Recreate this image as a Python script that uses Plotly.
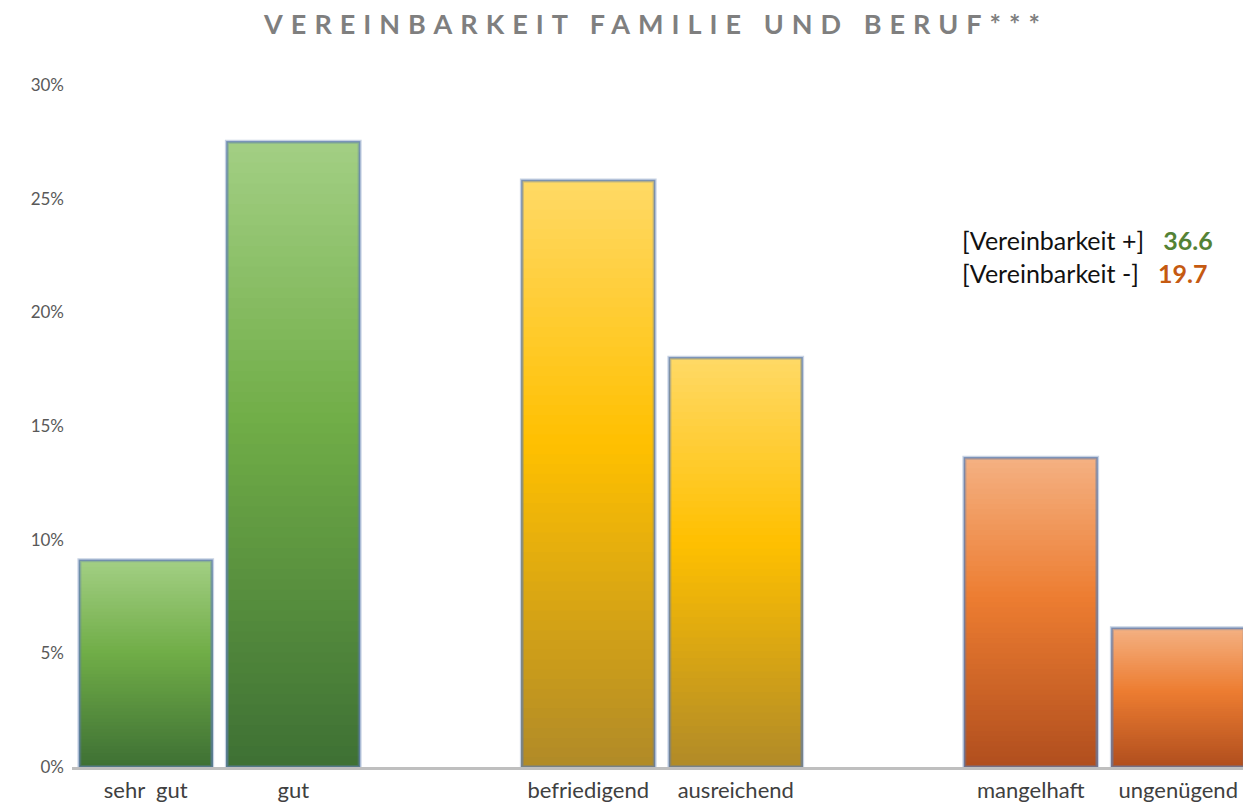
import plotly.graph_objects as go

# ---- data ----
categories = ["sehr\u00a0 gut", "gut", "", "befriedigend", "ausreichend", "", "mangelhaft", "ungenügend"]
values = [9.1, 27.5, None, 25.8, 18.0, None, 13.6, 6.1]
groups = ["pos", "pos", None, "mid", "mid", None, "neg", "neg"]
y_ticks = [0, 5, 10, 15, 20, 25, 30]
y_ticklabels = ["0%", "5%", "10%", "15%", "20%", "25%", "30%"]
title_text = "VEREINBARKEIT FAMILIE UND BERUF***"
summary_labels = ["[Vereinbarkeit +]", "[Vereinbarkeit -]"]
summary_values = [36.6, 19.7]
summary_colors = ["#548235", "#c55a11"]

# gradient stops (top -> bottom) per colour group
gradients = {
    "pos": [(0.0, (163, 207, 132)), (0.45, (112, 173, 71)), (1.0, (62, 112, 52))],
    "mid": [(0.0, (255, 217, 102)), (0.45, (255, 192, 0)), (1.0, (176, 138, 40))],
    "neg": [(0.0, (244, 177, 131)), (0.45, (237, 125, 49)), (1.0, (176, 78, 30))],
}


def grad_color(stops, f):
    for (f0, c0), (f1, c1) in zip(stops[:-1], stops[1:]):
        if f0 <= f <= f1:
            t = (f - f0) / (f1 - f0) if f1 > f0 else 0
            c = [round(a + (b - a) * t) for a, b in zip(c0, c1)]
            return "rgb(%d,%d,%d)" % tuple(c)
    return "rgb(%d,%d,%d)" % stops[-1][1]


x = list(range(len(categories)))
N = 60
fig = go.Figure()
for k in range(N):
    frac_h = (N - k) / N
    ys = [v * frac_h if v is not None else None for v in values]
    cols = [grad_color(gradients[g], (k + 0.5) / N) if g else "rgba(0,0,0,0)" for g in groups]
    fig.add_trace(go.Bar(x=x, y=ys, width=0.9, marker=dict(color=cols, line=dict(width=0)),
                         hoverinfo="skip", showlegend=False))

# soft bluish outline
fig.add_trace(go.Bar(x=x, y=values, width=0.9,
                     marker=dict(color="rgba(0,0,0,0)", line=dict(color="rgba(95,125,175,0.35)", width=4)),
                     hoverinfo="skip", showlegend=False))
fig.add_trace(go.Bar(x=x, y=values, width=0.9,
                     marker=dict(color="rgba(0,0,0,0)", line=dict(color="rgba(95,125,175,0.7)", width=1.5)),
                     hovertemplate="%{y}%<extra></extra>", showlegend=False))

nb = "\u00a0"
annotations = []
for i, (lab, val, col) in enumerate(zip(summary_labels, summary_values, summary_colors)):
    annotations.append(dict(
        xref="paper", yref="paper", x=0.7525, y=0.773 - i * 0.048, xanchor="left", yanchor="middle",
        text=f"{lab}{nb}{nb} <b><span style='color:{col}'>{val:.1f}</span></b>",
        showarrow=False, font=dict(family="Lato, Open Sans, sans-serif", size=25, color="#111111")))

fig.update_layout(
    width=1251, height=807,
    margin=dict(l=64, r=7, t=77, b=48),
    paper_bgcolor="white", plot_bgcolor="white",
    barmode="overlay", bargap=0.1,
    title=dict(text=f"<b><span style='letter-spacing:8px'>{title_text}</span></b>",
               x=0.518, xanchor="center", y=0.979, yanchor="middle",
               font=dict(family="Lato, Open Sans, sans-serif", size=27, color="#7f7f7f")),
    xaxis=dict(range=[-0.5, 7.5], tickmode="array", tickvals=x, ticktext=categories,
               showgrid=False, zeroline=False, showline=True, linecolor="#bfbfbf", linewidth=3,
               ticks="", tickfont=dict(family="Lato, Open Sans, sans-serif", size=22, color="#404040"),
               ticklabelstandoff=2, fixedrange=True),
    yaxis=dict(range=[0, 30], tickmode="array", tickvals=y_ticks, ticktext=y_ticklabels,
               showgrid=False, zeroline=False, showline=False, ticks="",
               tickfont=dict(family="Lato, Open Sans, sans-serif", size=17, color="#595959"),
               ticklabelstandoff=7, fixedrange=True),
    annotations=annotations,
)

fig.write_html("out.html")
